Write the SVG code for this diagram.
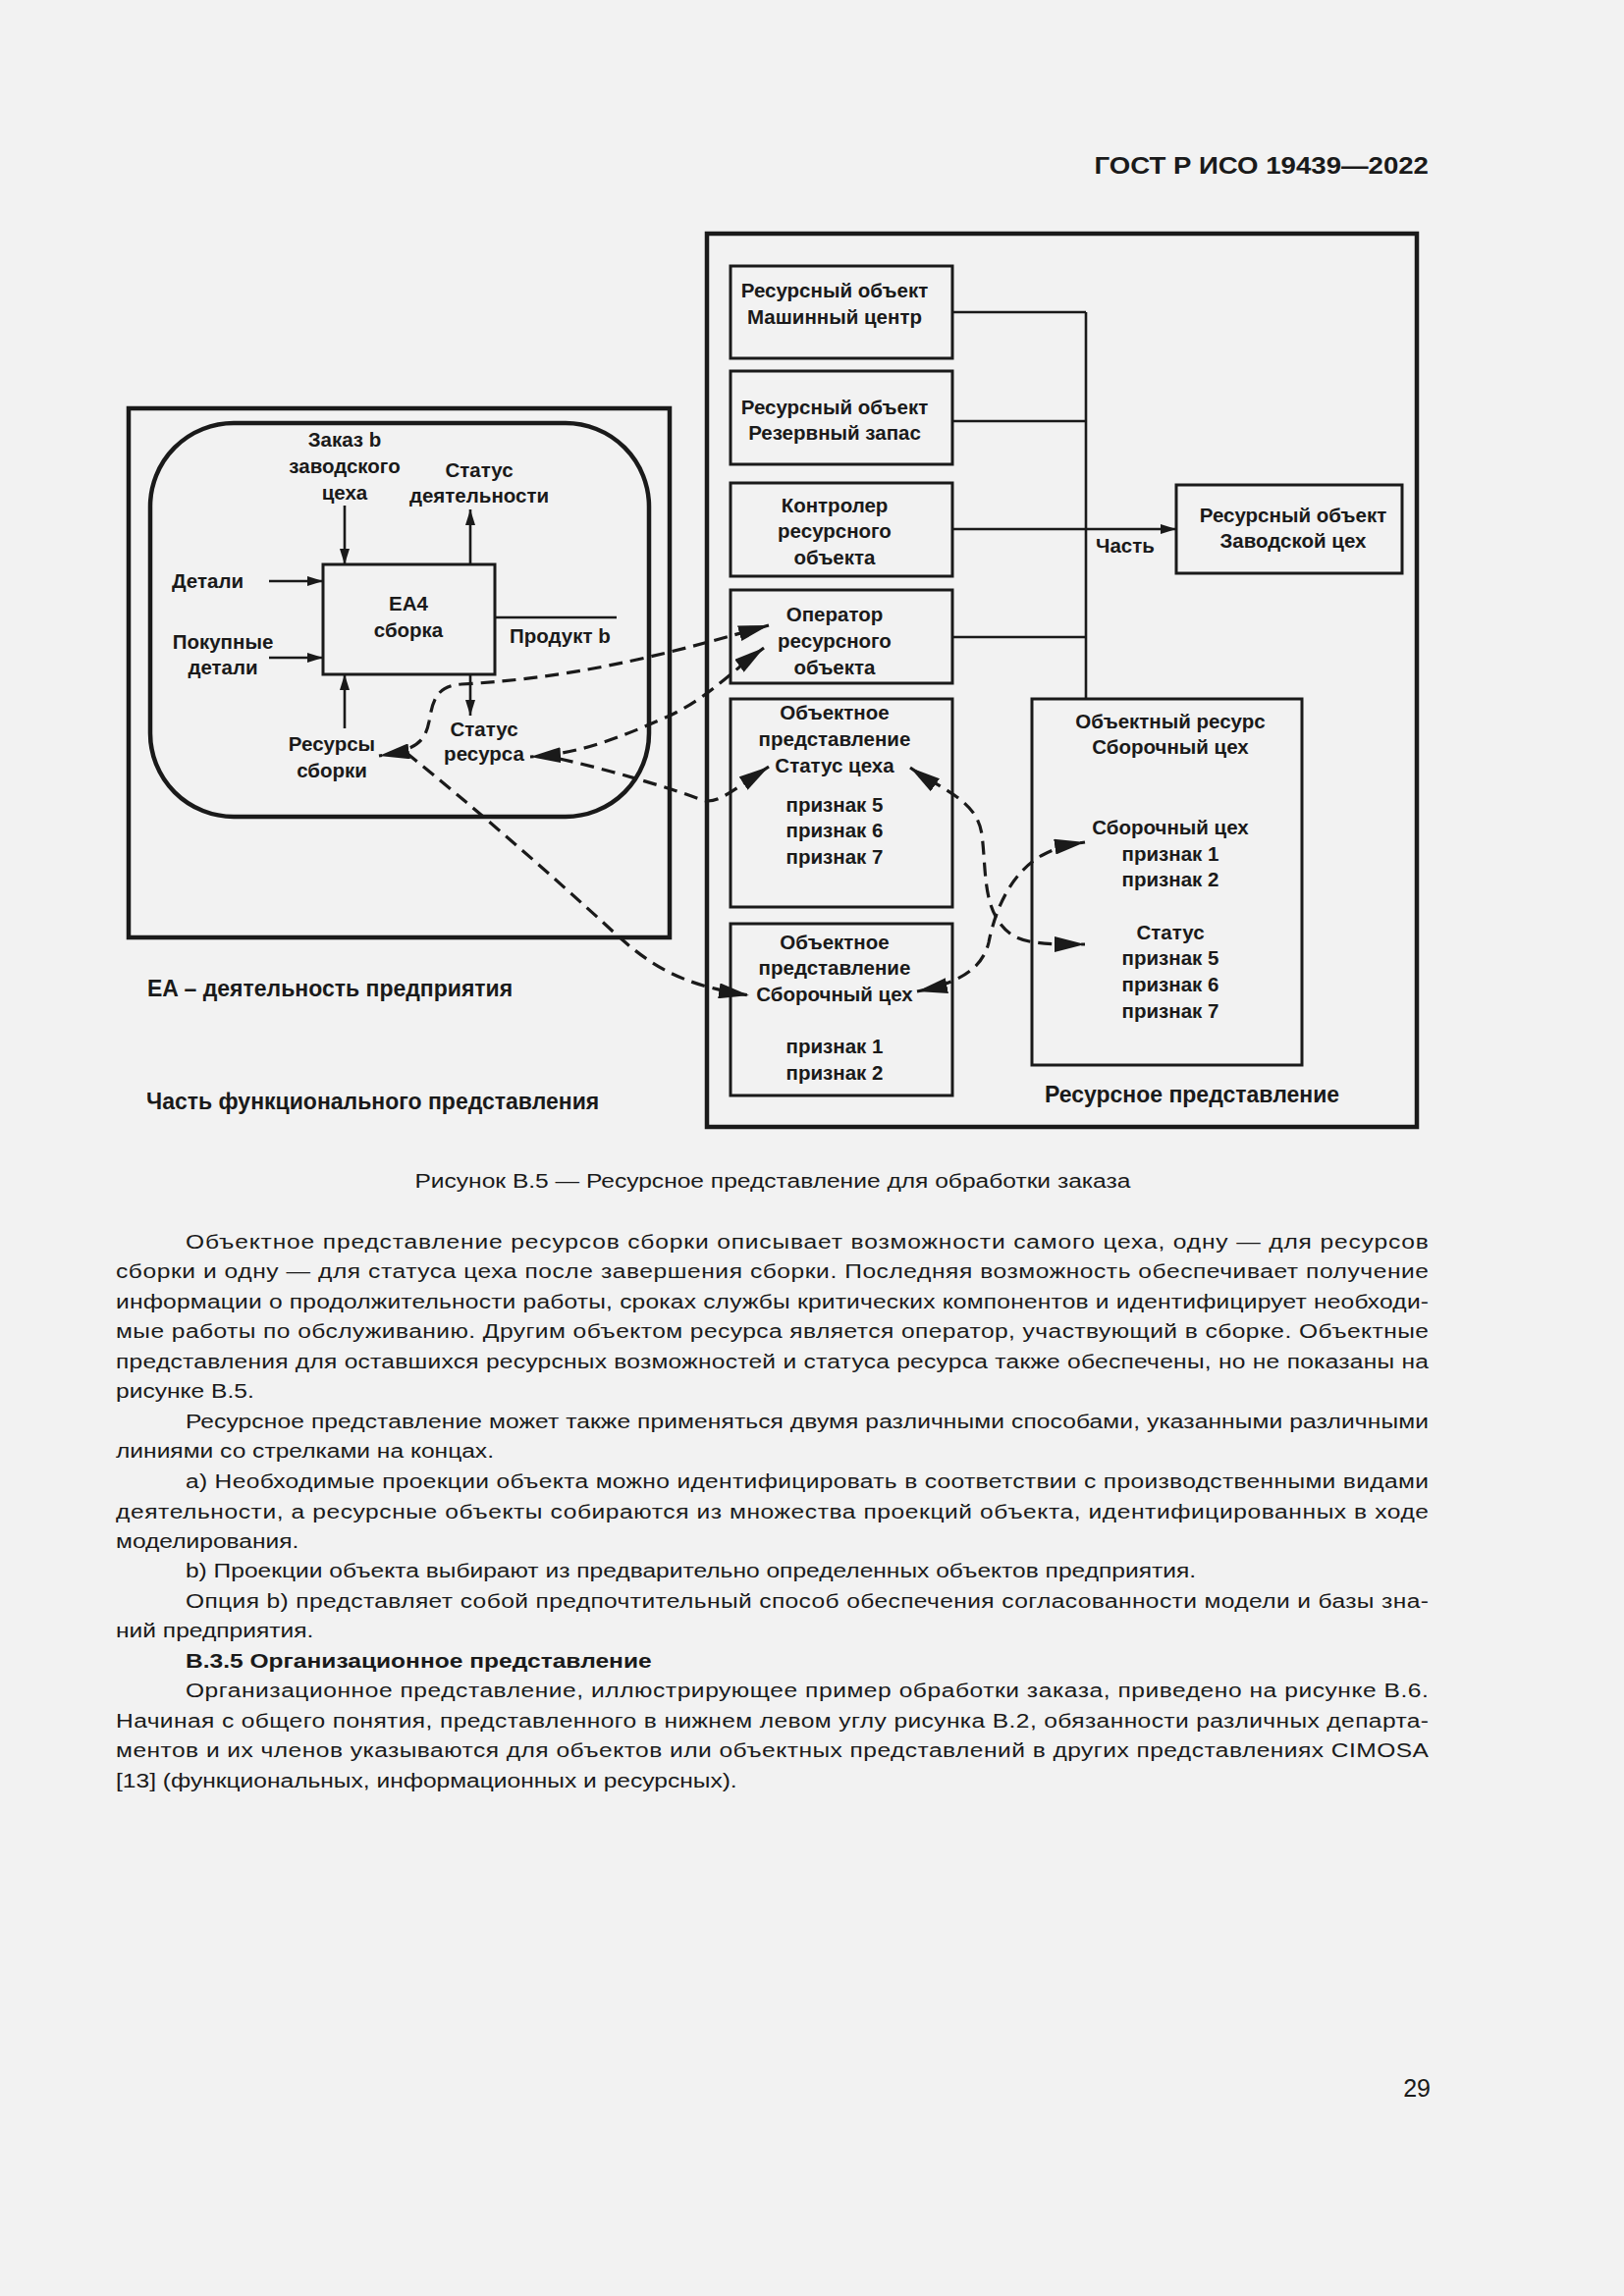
<svg xmlns="http://www.w3.org/2000/svg" width="1654" height="2339" viewBox="0 0 1654 2339">
<style>
.bg{fill:#f2f2f2}
.box{fill:none;stroke:#1a1a1a;stroke-width:3}
.frame{fill:none;stroke:#1a1a1a;stroke-width:4.5}
.ln{fill:none;stroke:#1a1a1a;stroke-width:2.6}
.arr{marker-end:url(#ah)}
.dash{fill:none;stroke:#1a1a1a;stroke-width:3.2;stroke-dasharray:14 8}
.de{marker-end:url(#big)}
.dse{marker-start:url(#big);marker-end:url(#big)}
.t{font-family:"Liberation Sans",Arial,sans-serif;font-weight:bold;font-size:20.5px;fill:#1a1a1a;text-anchor:middle}
.tl{text-anchor:start}
.cap{font-size:23px}
.body{font-family:"Liberation Sans",Arial,sans-serif;font-size:21px;fill:#1a1a1a}
.b{font-weight:bold}
</style>
<defs>
<marker id="ah" markerUnits="userSpaceOnUse" markerWidth="16" markerHeight="10" viewBox="0 0 16 10" refX="16" refY="5" orient="auto"><path d="M0,0 L16,5 L0,10 z" fill="#1a1a1a"/></marker>
<marker id="big" markerUnits="userSpaceOnUse" markerWidth="31" markerHeight="16" viewBox="0 0 31 16" refX="31" refY="8" orient="auto-start-reverse"><path d="M0,0 L31,8 L0,16 z" fill="#1a1a1a"/></marker>
</defs>
<rect class="bg" x="0" y="0" width="1654" height="2339"/>

<g id="header">
<text class="body b" transform="scale(1.15 1)" x="1265.2" y="177" text-anchor="end" style="font-size:24px">ГОСТ Р ИСО 19439—2022</text>
</g>

<!-- Functional view -->
<g id="functional-frame">
<rect class="frame" x="131" y="416" width="551" height="539"/>
<text class="t tl cap" x="150" y="1015">EA – деятельность предприятия</text>
<text class="t tl cap" x="149" y="1130">Часть функционального представления</text>
</g>
<g id="ea-frame">
<rect class="frame" x="153" y="431" width="508" height="401" rx="85" ry="85"/>
</g>
<g id="ea4">
<rect class="box" x="329" y="575" width="175" height="112"/>
<text class="t"><tspan x="416" y="622">EA4</tspan><tspan x="416" y="649">сборка</tspan></text>
</g>
<g id="lbl-order">
<text class="t"><tspan x="351" y="455">Заказ b</tspan><tspan x="351" y="482">заводского</tspan><tspan x="351" y="509">цеха</tspan></text>
</g>
<g id="lbl-activity-status">
<text class="t"><tspan x="488" y="486">Статус</tspan><tspan x="488" y="512">деятельности</tspan></text>
</g>
<g id="lbl-parts">
<text class="t tl" x="175" y="599">Детали</text>
</g>
<g id="lbl-bought">
<text class="t"><tspan x="227" y="661">Покупные</tspan><tspan x="227" y="687">детали</tspan></text>
</g>
<g id="lbl-product">
<text class="t tl" x="519" y="655">Продукт b</text>
</g>
<g id="lbl-resources">
<text class="t"><tspan x="338" y="765">Ресурсы</tspan><tspan x="338" y="792">сборки</tspan></text>
</g>
<g id="lbl-resource-status">
<text class="t"><tspan x="493" y="750">Статус</tspan><tspan x="493" y="775">ресурса</tspan></text>
</g>

<!-- Resource view -->
<g id="resource-frame">
<rect class="frame" x="720" y="238" width="723" height="910"/>
<text class="t cap" x="1214" y="1123">Ресурсное представление</text>
</g>
<g id="ro-machine">
<rect class="box" x="744" y="271" width="226" height="94"/>
<text class="t"><tspan x="850" y="303">Ресурсный объект</tspan><tspan x="850" y="330">Машинный центр</tspan></text>
</g>
<g id="ro-reserve">
<rect class="box" x="744" y="378" width="226" height="95"/>
<text class="t"><tspan x="850" y="422">Ресурсный объект</tspan><tspan x="850" y="448">Резервный запас</tspan></text>
</g>
<g id="ro-controller">
<rect class="box" x="744" y="492" width="226" height="95"/>
<text class="t"><tspan x="850" y="522">Контролер</tspan><tspan x="850" y="548">ресурсного</tspan><tspan x="850" y="575">объекта</tspan></text>
</g>
<g id="ro-operator">
<rect class="box" x="744" y="601" width="226" height="95"/>
<text class="t"><tspan x="850" y="633">Оператор</tspan><tspan x="850" y="660">ресурсного</tspan><tspan x="850" y="687">объекта</tspan></text>
</g>
<g id="ov-shop-status">
<rect class="box" x="744" y="712" width="226" height="212"/>
<text class="t"><tspan x="850" y="733">Объектное</tspan><tspan x="850" y="760">представление</tspan><tspan x="850" y="787">Статус цеха</tspan><tspan x="850" y="827">признак 5</tspan><tspan x="850" y="853">признак 6</tspan><tspan x="850" y="880">признак 7</tspan></text>
</g>
<g id="ov-assembly-shop">
<rect class="box" x="744" y="941" width="226" height="175"/>
<text class="t"><tspan x="850" y="967">Объектное</tspan><tspan x="850" y="993">представление</tspan><tspan x="850" y="1020">Сборочный цех</tspan><tspan x="850" y="1073">признак 1</tspan><tspan x="850" y="1100">признак 2</tspan></text>
</g>
<g id="ro-factory">
<rect class="box" x="1198" y="494" width="230" height="90"/>
<text class="t"><tspan x="1317" y="532">Ресурсный объект</tspan><tspan x="1317" y="558">Заводской цех</tspan></text>
</g>
<g id="or-assembly">
<rect class="box" x="1051" y="712" width="275" height="373"/>
<text class="t"><tspan x="1192" y="742">Объектный ресурс</tspan><tspan x="1192" y="768">Сборочный цех</tspan><tspan x="1192" y="850">Сборочный цех</tspan><tspan x="1192" y="877">признак 1</tspan><tspan x="1192" y="903">признак 2</tspan><tspan x="1192" y="957">Статус</tspan><tspan x="1192" y="983">признак 5</tspan><tspan x="1192" y="1010">признак 6</tspan><tspan x="1192" y="1037">признак 7</tspan></text>
</g>

<g id="connectors">
<line class="ln arr" x1="351" y1="515" x2="351" y2="575"/>
<line class="ln arr" x1="479" y1="575" x2="479" y2="519"/>
<line class="ln arr" x1="274" y1="592" x2="329" y2="592"/>
<line class="ln arr" x1="274" y1="670" x2="329" y2="670"/>
<line class="ln" x1="504" y1="629" x2="628" y2="629"/>
<line class="ln arr" x1="351" y1="742" x2="351" y2="687"/>
<line class="ln arr" x1="479" y1="687" x2="479" y2="729"/>

<line class="ln" x1="970" y1="318" x2="1106" y2="318"/>
<line class="ln" x1="970" y1="429" x2="1106" y2="429"/>
<line class="ln" x1="970" y1="649" x2="1106" y2="649"/>
<line class="ln" x1="1106" y1="318" x2="1106" y2="712"/>
<line class="ln arr" x1="970" y1="539" x2="1198" y2="539"/>
<text class="t tl" x="1116" y="563">Часть</text>

<path class="dash dse" d="M783,637 C700,660 600,690 470,697 C445,699 441,712 437,735 C433,755 425,764 386,770"/>
<path class="dash de" d="M414,767 C480,820 560,890 620,945 C660,982 690,1003 763,1014"/>
<path class="dash dse" d="M778,660 C745,684 720,712 680,730 C630,752 590,768 540,771"/>
<path class="dash de" d="M570,773 C620,784 690,805 715,815 C730,820 745,806 783,781"/>
<path class="dash dse" d="M927,782 C960,805 995,815 1000,850 C1005,890 1000,930 1030,952 C1045,962 1070,962 1105,962"/>
<path class="dash dse" d="M934,1010 C970,1003 1000,990 1007,960 C1014,925 1030,890 1060,872 C1075,864 1085,861 1105,858"/>
</g>

<g id="text-block" transform="scale(1.17 1)">
<text class="body" x="672.6" y="1210" text-anchor="middle">Рисунок В.5 — Ресурсное представление для обработки заказа</text>
<text class="body" x="161.5" y="1272" textLength="1082" lengthAdjust="spacing">Объектное представление ресурсов сборки описывает возможности самого цеха, одну — для ресурсов</text>
<text class="body" x="100.9" y="1302.5" textLength="1142.7" lengthAdjust="spacing">сборки и одну — для статуса цеха после завершения сборки. Последняя возможность обеспечивает получение</text>
<text class="body" x="100.9" y="1333" textLength="1142.7" lengthAdjust="spacing">информации о продолжительности работы, сроках службы критических компонентов и идентифицирует необходи-</text>
<text class="body" x="100.9" y="1363.5" textLength="1142.7" lengthAdjust="spacing">мые работы по обслуживанию. Другим объектом ресурса является оператор, участвующий в сборке. Объектные</text>
<text class="body" x="100.9" y="1394" textLength="1142.7" lengthAdjust="spacing">представления для оставшихся ресурсных возможностей и статуса ресурса также обеспечены, но не показаны на</text>
<text class="body" x="100.9" y="1424.5">рисунке В.5.</text>
<text class="body" x="161.5" y="1455" textLength="1082" lengthAdjust="spacing">Ресурсное представление может также применяться двумя различными способами, указанными различными</text>
<text class="body" x="100.9" y="1485.5">линиями со стрелками на концах.</text>
<text class="body" x="161.5" y="1516" textLength="1082" lengthAdjust="spacing">a) Необходимые проекции объекта можно идентифицировать в соответствии с производственными видами</text>
<text class="body" x="100.9" y="1546.5" textLength="1142.7" lengthAdjust="spacing">деятельности, а ресурсные объекты собираются из множества проекций объекта, идентифицированных в ходе</text>
<text class="body" x="100.9" y="1577">моделирования.</text>
<text class="body" x="161.5" y="1607.5">b) Проекции объекта выбирают из предварительно определенных объектов предприятия.</text>
<text class="body" x="161.5" y="1638" textLength="1082" lengthAdjust="spacing">Опция b) представляет собой предпочтительный способ обеспечения согласованности модели и базы зна-</text>
<text class="body" x="100.9" y="1668.5">ний предприятия.</text>
<text class="body b" x="161.5" y="1699">В.3.5 Организационное представление</text>
<text class="body" x="161.5" y="1729.5" textLength="1082" lengthAdjust="spacing">Организационное представление, иллюстрирующее пример обработки заказа, приведено на рисунке В.6.</text>
<text class="body" x="100.9" y="1760" textLength="1142.7" lengthAdjust="spacing">Начиная с общего понятия, представленного в нижнем левом углу рисунка В.2, обязанности различных департа-</text>
<text class="body" x="100.9" y="1790.5" textLength="1142.7" lengthAdjust="spacing">ментов и их членов указываются для объектов или объектных представлений в других представлениях CIMOSA</text>
<text class="body" x="100.9" y="1821">[13] (функциональных, информационных и ресурсных).</text>
</g>

<g id="page-number">
<text class="body" x="1457" y="2136" text-anchor="end" style="font-size:25px">29</text>
</g>
</svg>
